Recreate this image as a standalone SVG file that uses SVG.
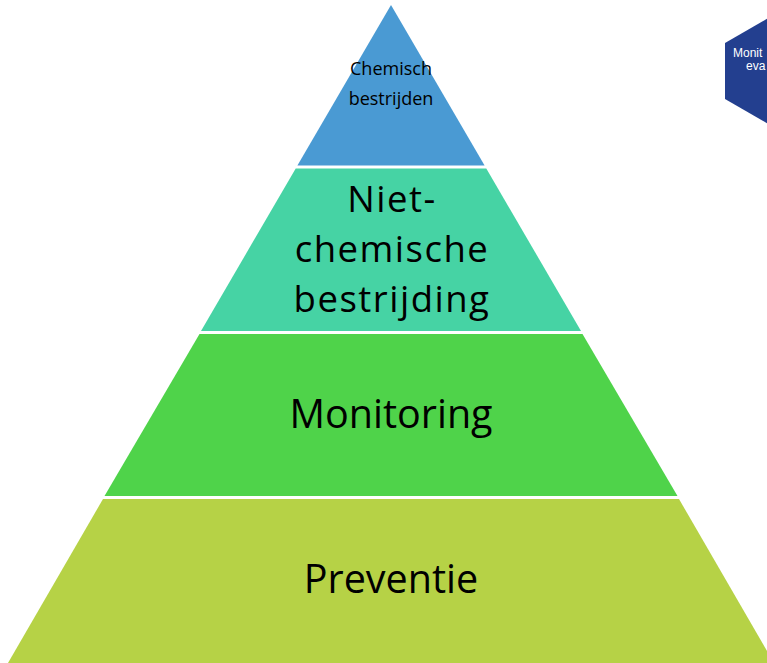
<svg xmlns="http://www.w3.org/2000/svg" width="767" height="663" viewBox="0 0 767 663">
  <style>
    .lbl { font-family: "Open Sans", Lato, "Liberation Sans", sans-serif; fill: #000; text-anchor: middle; }
    .big { font-size: 39.5px; }
    .mid { font-size: 36.5px; letter-spacing: 1.5px; }
    .small { font-size: 18px; }
    .hex { font-family: "Liberation Sans", Arial, sans-serif; font-size: 12px; fill: #ffffff; }
  </style>
  <rect width="767" height="663" fill="#ffffff"/>
  <g id="level-chemisch">
    <polygon points="391,5 484.6,165.5 297.4,165.5" fill="#4a9ad3"/>
    <text class="lbl small" x="391" y="75">Chemisch<tspan x="391" dy="30">bestrijden</tspan></text>
  </g>
  <g id="level-niet-chemisch">
    <polygon points="295.7,168.5 486.3,168.5 581,331 201,331" fill="#46d3a4"/>
    <text class="lbl mid" x="392" y="212">Niet-<tspan x="392" dy="50">chemische</tspan><tspan x="392" dy="50">bestrijding</tspan></text>
  </g>
  <g id="level-monitoring">
    <polygon points="199.5,334 582.5,334 677.5,496 104.5,496" fill="#4fd34a"/>
    <text class="lbl big" x="391" y="428">Monitoring</text>
  </g>
  <g id="level-preventie">
    <polygon points="103,499 679,499 774,663 8,663" fill="#b6d246"/>
    <text class="lbl big" x="391" y="593">Preventie</text>
  </g>
  <g id="hexagon-monitoring-evaluatie">
    <polygon points="773.5,15 822,43 822,99 773.5,127 725,99 725,43" fill="#233f8f"/>
    <text class="hex" x="733" y="57">Monit<tspan x="746" y="70">eva</tspan></text>
  </g>
  <g id="connectors"></g>
</svg>
